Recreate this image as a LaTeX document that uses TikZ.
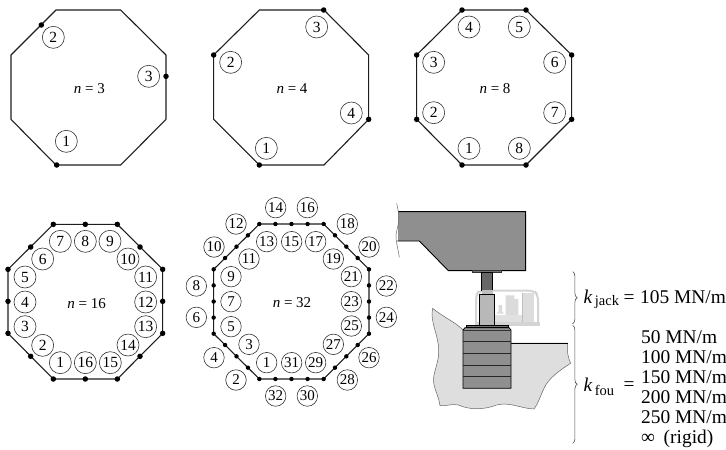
\documentclass[tikz,border=0pt]{standalone}
\usepackage{fontspec}
\setmainfont{Liberation Serif}
\usetikzlibrary{decorations.pathreplacing}
\definecolor{linec}{HTML}{1E1E1E}
\definecolor{concrete}{HTML}{8F8F8F}
\definecolor{soil}{HTML}{DEDEDE}
\definecolor{ghost}{HTML}{D4D4D4}
\tikzset{
  octa/.style={draw=linec,line width=1.1pt,line join=round},
  lab/.style={circle,draw=black!80,line width=0.6pt,inner sep=0pt,minimum size=22pt,font=\fontsize{15.5}{15.5}\selectfont},
  lab32/.style={lab,minimum size=20.5pt,font=\fontsize{15}{15}\selectfont},
  captxt/.style={font=\fontsize{15}{15}\selectfont,inner sep=0pt},
  dotn/.style={circle,fill=black,inner sep=0pt,minimum size=5.5pt},
  dots/.style={circle,fill=black,inner sep=0pt,minimum size=4.4pt},
  big/.style={font=\fontsize{19.4}{19.4}\selectfont,inner sep=0pt,anchor=base west},
  subt/.style={font=\fontsize{14.5}{14.5}\selectfont,inner sep=0pt,anchor=base west},
  bracew/.style={draw=black!70,line width=0.6pt,decorate,decoration={brace,amplitude=4.5pt}},
  wavy/.style={draw=black!60,line width=0.5pt},
  heavy/.style={draw=black,line width=0.9pt}
}
\begin{document}
\begin{tikzpicture}[x=0.33333pt,y=-0.33333pt]
\useasboundingbox (0,0) rectangle (2178,1347);
% n=3
\begin{scope}
\draw[octa] (168,30)--(362,30)--(498,165)--(498,358)--(362,495)--(168,495)--(33,358)--(33,165)--cycle;
\node[captxt] (t3) at (268,265) {\textit{n} = 3};
\node[lab] (a1) at (199,424) {1};
\node[lab] (a2) at (160,112) {2};
\node[lab] (a3) at (446,229) {3};
\foreach \x/\y in {170/495,124/75,498/229} \node[dotn] at (\x,\y) {};
\end{scope}
% n=4
\begin{scope}[shift={(600,0)}]
\draw[octa] (178,30)--(372,30)--(506,165)--(506,358)--(372,495)--(178,495)--(41,358)--(41,165)--cycle;
\node[captxt] (t4) at (276,265) {\textit{n} = 4};
\foreach \i/\x/\y in {1/199/445,2/92/187,3/350/81,4/454/339} \node[lab] (b\i) at (\x,\y) {\i};
\foreach \x/\y in {178/495,41/165,371/30,506/358} \node[dotn] at (\x,\y) {};
\end{scope}
% n=8
\begin{scope}[shift={(1200,0)}]
\draw[octa] (186,30)--(378,30)--(515,165)--(515,358)--(378,495)--(186,495)--(50,358)--(50,165)--cycle;
\node[captxt] (t8) at (285,265) {\textit{n} = 8};
\foreach \i/\x/\y in {1/207/445,2/101/338,3/101/187,4/207/81,5/358/81,6/464/187,7/464/338,8/358/445} \node[lab] (c\i) at (\x,\y) {\i};
\foreach \x/\y in {186/30,378/30,515/165,515/358,378/495,186/495,50/358,50/165} \node[dotn] at (\x,\y) {};
\end{scope}
% n=16
\begin{scope}[shift={(0,615)}]
\draw[octa] (160,58)--(352,58)--(488,193)--(488,385)--(352,522)--(160,522)--(24,385)--(24,193)--cycle;
\node[captxt] (t16) at (260,295) {\textit{n} = 16};
\foreach \i/\x/\y in {1/181/473,2/128/421,3/75/365,4/75/291,5/75/216,6/128/162,7/181/109,8/256/109,9/330/109,10/384/162,11/437/216,12/437/291,13/437/365,14/384/420,15/331/473,16/256/473} \node[lab] (d\i) at (\x,\y) {\i};
\foreach \x/\y in {160/58,352/58,488/193,488/385,352/522,160/522,24/385,24/193,256/58,420/126,488/289,420/454,256/522,92/454,24/289,92/126} \node[dotn] at (\x,\y) {};
\end{scope}
% n=32
\begin{scope}[shift={(540,570)}]
\draw[octa] (238,102)--(431,102)--(567,238)--(567,431)--(431,567)--(238,567)--(101,431)--(101,238)--cycle;
\node[captxt] (t32) at (336,338) {\textit{n} = 32};
\foreach \i/\x/\y in {2/168/570,4/102/503,6/49/382,8/49/288,10/102/171,12/168/102,14/287/53,16/382/53,18/502/102,20/567/171,22/619/288,24/619/382,26/567/503,28/502/570,30/382/618,32/287/618,1/260/518,3/207/463,5/153/410,7/153/335,9/153/260,11/207/207,13/260/155,15/335/155,17/407/155,19/460/207,21/514/260,23/514/335,25/514/408,27/460/463,29/407/518,31/335/518} \node[lab32] (e\i) at (\x,\y) {\i};
\foreach \xa/\ya/\xb/\yb in {238/102/431/102,431/102/567/238,567/238/567/431,567/431/431/567,431/567/238/567,238/567/101/431,101/431/101/238,101/238/238/102}
  \foreach \k in {0,1,2,3} {
    \pgfmathsetmacro\px{\xa+(\xb-\xa)*\k/4}
    \pgfmathsetmacro\py{\ya+(\yb-\ya)*\k/4}
    \node[dots] at (\px,\py) {};
  }
\end{scope}
% soil
\begin{scope}[shift={(1170,900)}]
\filldraw[fill=soil,draw=black!60,line width=0.5pt] (128,25) .. controls (165,55) and (195,65) .. (219,90) -- (363,129) -- (533,129)
  .. controls (530,155) and (535,175) .. (542,190) .. controls (510,210) and (475,235) .. (462,265) .. controls (450,290) and (445,310) .. (432,327)
  .. controls (390,325) and (360,305) .. (320,315) .. controls (280,330) and (240,330) .. (205,315) .. controls (185,310) and (165,320) .. (150,317)
  .. controls (145,280) and (125,260) .. (132,225) .. controls (140,190) and (150,170) .. (145,135) .. controls (140,95) and (120,60) .. (128,25) -- cycle;
\draw[heavy] (363,129) -- (533,129);
\end{scope}
% jack ghost
\begin{scope}[shift={(1170,585)}]
\draw[ghost,line width=2pt,rounded corners=5pt,fill=white] (258,392) -- (258,300) -- (268,287) -- (432,287) -- (444,300) -- (444,392);
\fill[ghost!80] (397,293) rectangle (433,380);
\draw[black!25,line width=0.4pt] (397,293) -- (397,380);
\fill[ghost!85] (347,301) -- (373,301) -- (373,312) -- (385,312) -- (385,360) -- (347,360) -- cycle;
\fill[ghost!85] (326,330) -- (336,330) -- (336,348) -- (342,356) -- (320,356) -- (326,348) -- cycle;
\fill[ghost!70] (315,360) rectangle (395,385);
\fill[ghost] (256,380) rectangle (450,393);
\end{scope}
% block
\begin{scope}[shift={(1170,900)}]
\filldraw[fill=concrete,draw=black,line width=0.8pt] (219,265) -- (219,90) -- (225,83) -- (357,83) -- (363,90) -- (363,265) -- cycle;
\foreach \y in {125,160,195,230} \draw[black!85,line width=0.9pt] (219,\y) -- (363,\y);
\draw[black!80,line width=0.5pt] (219,90) -- (363,90);
\filldraw[fill=black!55,draw=black,line width=0.6pt] (228,75) rectangle (355,83);
\filldraw[fill=black!28,draw=black,line width=0.8pt] (268,-17) rectangle (314,75);
\end{scope}
% girder and jack
\begin{scope}[shift={(1170,585)}]
\fill[concrete] (24,50) -- (407,50) -- (407,227) -- (175,227) -- (88,138) -- (24,138) -- cycle;
\draw[heavy] (24,50) -- (407,50) -- (407,227) -- (175,227) -- (88,138) -- (22,138);
\draw[wavy] (20,25) .. controls (22,35) and (26,50) .. (27,65) .. controls (28,90) and (16,110) .. (18,130) .. controls (20,150) and (26,170) .. (28,187);
\filldraw[fill=black!55,draw=black!80,line width=0.5pt] (247,227) rectangle (335,233);
\filldraw[fill=black!60,draw=black,line width=0.4pt] (275,233) rectangle (308,285);
\fill[black!25] (275,285) rectangle (308,298);
\end{scope}
% braces
\begin{scope}[shift={(1680,780)}]
\coordinate (ba) at (38,35);
\coordinate (bb) at (38,191);
\coordinate (bc) at (38,196);
\coordinate (bd) at (38,550);
\draw[bracew] (ba) -- (bb);
\draw[bracew] (bc) -- (bd);
\node[big] (kj) at (70,130) {\textit{k}};
\node[subt] (kjs) at (104,135) {jack};
\node[big] (ej) at (190,130) {=};
\node[big] (v0) at (240,130) {105 MN/m};
\node[big] (kf) at (70,395) {\textit{k}};
\node[subt] (kfs) at (104,405) {fou};
\node[big] (ef) at (190,391) {=};
\node[big] (v1) at (243,250) {50 MN/m};
\node[big] (v2) at (243,310) {100 MN/m};
\node[big] (v3) at (243,370) {150 MN/m};
\node[big] (v4) at (243,430) {200 MN/m};
\node[big] (v5) at (243,490) {250 MN/m};
\node[big] (v6) at (243,550) {∞\hspace{0.45em}(rigid)};
\end{scope}
\end{tikzpicture}
\end{document}
